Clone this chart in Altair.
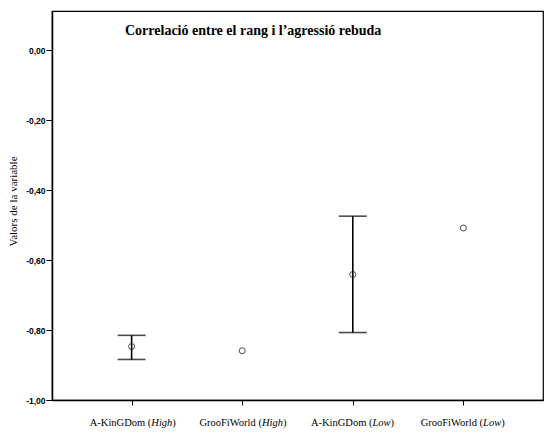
import altair as alt
import pandas as pd

# Groups, levels and summary values (mean with interval limits)
groups = ["A-KinGDom", "GrooFiWorld", "A-KinGDom", "GrooFiWorld"]
levels = ["High", "High", "Low", "Low"]
means = [-0.847, -0.859, -0.641, -0.508]
lower = [-0.884, None, -0.807, None]
upper = [-0.815, None, -0.474, None]
y_ticks = [0.0, -0.2, -0.4, -0.6, -0.8, -1.0]

W, H = 491, 389
SERIF = "Liberation Serif"
SANS = "Liberation Sans"

cats = [f"{g} ({l})" for g, l in zip(groups, levels)]
df = pd.DataFrame({
    "cat": cats,
    "prefix": [g + " (" for g in groups],
    "level": levels,
    "mean": means,
    "lo": lower,
    "hi": upper,
})
bars = df.dropna(subset=["lo"])

x_enc = alt.X(
    "cat:N",
    sort=cats,
    scale=alt.Scale(type="point", padding=0.72),
    axis=alt.Axis(labels=False, title=None, grid=False, tickSize=5,
                  tickColor="black", tickWidth=1, domainColor="black",
                  domainWidth=1.5),
)
y_scale = alt.Scale(domain=[-1.0, 0.113], nice=False, zero=False)
y_axis = alt.Axis(
    values=y_ticks,
    labelExpr="(datum.value < 0 ? '-' : '') + replace(format(abs(datum.value), '.2f'), '.', ',')",
    labelFont=SANS, labelFontWeight="bold", labelFontSize=8.5, labelColor="black",
    labelPadding=1, tickSize=6, tickColor="black", tickWidth=1,
    domainColor="black", domainWidth=1.5, grid=False,
    title="Valors de la variable", titleFont=SERIF, titleFontWeight="normal",
    titleFontSize=11, titleColor="black", titleX=-34, titleY=190,
)

base = alt.Chart(df)

points = base.mark_point(shape="circle", filled=False, size=36, color="black",
                         strokeWidth=1).encode(
    x=x_enc, y=alt.Y("mean:Q", scale=y_scale, axis=y_axis))

rules = alt.Chart(bars).mark_rule(color="black", strokeWidth=1.6).encode(
    x=x_enc, y=alt.Y("lo:Q", scale=y_scale), y2="hi:Q")
cap_lo = alt.Chart(bars).mark_tick(color="black", thickness=1.6, size=28,
                                   orient="horizontal").encode(
    x=x_enc, y=alt.Y("lo:Q", scale=y_scale))
cap_hi = alt.Chart(bars).mark_tick(color="black", thickness=1.6, size=28,
                                   orient="horizontal").encode(
    x=x_enc, y=alt.Y("hi:Q", scale=y_scale))

# Category labels: group name upright, level in italics, closing bracket upright
label_y = alt.value(H + 23)
lab_prefix = base.mark_text(align="right", baseline="middle", dx=19.7,
                            font=SERIF, fontSize=10.5, color="black").encode(
    x=x_enc, y=label_y, text="prefix:N")
lab_level = base.mark_text(align="left", baseline="middle", dx=19.7,
                           font=SERIF, fontSize=10.5, fontStyle="italic",
                           color="black").encode(
    x=x_enc, y=label_y, text="level:N")
lab_close_high = base.transform_filter("datum.level == 'High'").transform_calculate(
    close="')'").mark_text(align="left", baseline="middle", dx=40.7,
                          font=SERIF, fontSize=10.5, color="black").encode(
    x=x_enc, y=label_y, text="close:N")
lab_close_low = base.transform_filter("datum.level == 'Low'").transform_calculate(
    close="')'").mark_text(align="left", baseline="middle", dx=37.8,
                          font=SERIF, fontSize=10.5, color="black").encode(
    x=x_enc, y=label_y, text="close:N")

chart = alt.layer(
    rules, cap_lo, cap_hi, points,
    lab_prefix, lab_level, lab_close_high, lab_close_low,
).properties(
    width=W,
    height=H,
    padding={"left": 52, "top": 11, "right": 2, "bottom": 32},
    autosize=alt.AutoSizeParams(type="none"),
    background="white",
    title=alt.Title(
        "Correlació entre el rang i l’agressió rebuda",
        anchor="start", frame="group", offset=0, dx=73, dy=34,
        baseline="middle", font=SERIF, fontSize=14, fontWeight="bold",
        color="black",
    ),
).configure_view(stroke="black", strokeWidth=1.2)

chart.save("out.html", embed_options={"renderer": "svg", "actions": False})
